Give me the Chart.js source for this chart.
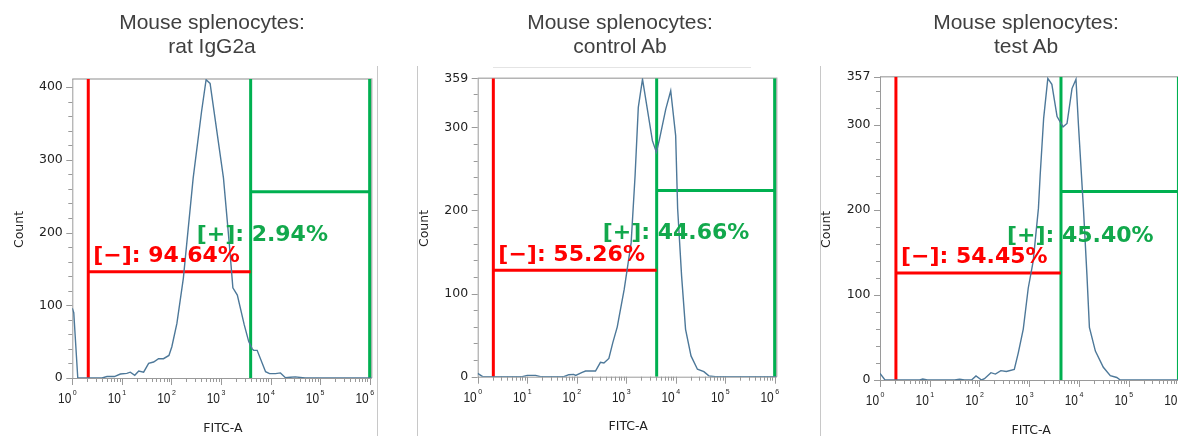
<!DOCTYPE html>
<html><head><meta charset="utf-8">
<script src="https://cdn.jsdelivr.net/npm/chart.js@4.4.1/dist/chart.umd.min.js"></script>
<style>
html,body{margin:0;padding:0;background:#fff;overflow:hidden;width:1178px;height:436px;}
.wrap{position:relative;width:1178px;height:436px;overflow:hidden;}
canvas{position:absolute;top:0;}
.title{position:absolute;top:10px;width:300px;text-align:center;font-family:"Liberation Sans",Arial,sans-serif;font-size:21px;line-height:24px;color:#404040;z-index:2;}
.sep{position:absolute;background:#c8c8c8;z-index:2;}
</style></head>
<body><div class="wrap" id="wrap">
<canvas id="c0"></canvas><canvas id="c1"></canvas><canvas id="c2"></canvas>
<div class="sep" style="left:377px;top:66px;width:1px;height:370px"></div>
<div class="sep" style="left:417px;top:66px;width:1px;height:370px"></div>
<div class="sep" style="left:820px;top:66px;width:1px;height:370px"></div>
<div class="sep" style="left:493px;top:67px;width:258px;height:1px;background:#e4e4e4"></div>
</div>
<script>
// ---------- data ----------
const titles = [
  ['Mouse splenocytes:', 'rat IgG2a'],
  ['Mouse splenocytes:', 'control Ab'],
  ['Mouse splenocytes:', 'test Ab']
];
const fitc1 = [1, 1.07, 1.29, 1.58, 2.51, 3.98, 5.01, 7.08, 9.33, 12.6, 14.8, 18.2, 21.9, 27.5, 34.7, 43.7, 55, 69.2, 89.1, 102, 129, 174, 275, 407, 501, 603, 1122, 1479, 1738, 2138, 2951, 3631, 4266, 4571, 5370, 7943, 9550, 12589, 15849, 19953, 25119, 31623, 50119, 100000, 316228, 1000000, 1100000];
const count1 = [96, 90, 0, 0, 0, 0, 2, 2, 5.5, 6.4, 8, 3.7, 9.6, 8, 20, 22, 26.5, 26.5, 31, 43, 75, 137, 275, 367, 410, 405, 275, 183, 124, 114, 73, 50, 40, 38, 38, 8.7, 6, 6, 7, 0.5, 1, 1.5, 0, 0, 0, 0, 0];
const fitc2 = [1, 1.26, 3.16, 7.94, 10, 14.8, 18.6, 55, 69.2, 87.1, 95.5, 129, 151, 240, 302, 355, 447, 537, 661, 724, 912, 1259, 1514, 1758, 2138, 3388, 4074, 4677, 6310, 7943, 10000, 10965, 13183, 15849, 20417, 27542, 37154, 46774, 63096, 100000, 1000000, 1100000];
const count2 = [4, 0, 0, 0, 1.6, 1.6, 0, 0, 2.4, 2.8, 1.6, 5.2, 6.8, 6.8, 17.3, 16.5, 22, 41, 60, 73, 105, 161, 242, 324, 358, 284, 270, 285, 322, 344, 290, 202, 121, 57, 25, 9, 6, 1, 0, 0, 0, 0];
const fitc3 = [1, 1.26, 3.16, 6.31, 7.24, 8.91, 31.6, 39.8, 50.1, 69.2, 85.1, 110, 126, 170, 209, 269, 347, 501, 603, 759, 955, 1202, 1531, 1660, 1950, 2366, 2851, 3631, 4786, 5754, 7244, 8710, 9772, 12303, 14454, 16218, 21380, 30903, 42658, 57544, 67608, 158489, 1000000, 1100000];
const count3 = [7.8, 0, 0, 0, 1.2, 0, 0, 0.8, 0, 0, 4.7, 0, 1.5, 8.6, 7, 11, 10, 12.5, 32, 60, 108, 140, 202, 241, 308, 355, 348, 310, 298, 302, 343, 354, 300, 202, 124, 62, 34, 15, 5, 3, 0, 0, 0, 0];

const negGate = [2.1, 2.07, 2.09];
const posGate = [3970, 4130, 4350];
const gateEnd = [1000000, 1000000, 1000000];
const negLevel = [146, 128, 126];
const posLevel = [256, 224, 222];
const negLabel = ['[\u2212]: 94.64%', '[\u2212]: 55.26%', '[\u2212]: 54.45%'];
const posLabel = ['[+]: 2.94%', '[+]: 44.66%', '[+]: 45.40%'];
const yMax = [411, 359, 357];
const yTickLabels = [[0, 100, 200, 300, 400], [0, 100, 200, 300, 359], [0, 100, 200, 300, 357]];
const xTickExponents = [0, 1, 2, 3, 4, 5, 6];
const xMin = 1, xMax = 1100000;
const xTitle = 'FITC-A', yTitle = 'Count';

// ---------- layout (pixels) ----------
const frames = [
  {left: 0,   width: 395, pad: {left: 72.3, top: 79,   right: 23.3, bottom: 58}, titleCenter: 212},
  {left: 395, width: 405, pad: {left: 82.7, top: 78.3, right: 23.3, bottom: 59.3}, titleCenter: 620},
  {left: 800, width: 410, pad: {left: 80,   top: 76.7, right: 29.5, bottom: 56}, titleCenter: 1026}
];
const H = 436;
const RED = '#ff0000', GREEN = '#00b050', GREEN_TXT = '#12a84c', HIST = '#4d7899';
const series = [[fitc1, count1], [fitc2, count2], [fitc3, count3]];

const decor = {
  id: 'decor',
  beforeDatasetsDraw(chart, args, o) {
    const ctx = chart.ctx, a = chart.chartArea, xs = chart.scales.x, ys = chart.scales.y;
    ctx.save();
    ctx.strokeStyle = '#b4b4b4'; ctx.lineWidth = 1.5;
    ctx.beginPath(); ctx.moveTo(a.left, a.top); ctx.lineTo(a.right, a.top); ctx.lineTo(a.right, a.bottom); ctx.stroke();
    ctx.strokeStyle = '#9a9a9a'; ctx.lineWidth = 1;
    ctx.beginPath(); ctx.moveTo(a.left + 0.5, a.top); ctx.lineTo(a.left + 0.5, a.bottom + 0.5); ctx.lineTo(a.right, a.bottom + 0.5); ctx.stroke();
    ctx.beginPath();
    for (let v = 0; v <= o.ymax + 0.01; v += 20) {
      const py = Math.round(ys.getPixelForValue(v)) + 0.5;
      const len = (v % 100 === 0) ? 6 : 4;
      ctx.moveTo(a.left - len, py); ctx.lineTo(a.left, py);
    }
    const pTop = Math.round(ys.getPixelForValue(o.yticks[o.yticks.length - 1])) + 0.5;
    ctx.moveTo(a.left - 6, pTop); ctx.lineTo(a.left, pTop);
    for (let k = 0; k < 6; k++) {
      for (let m = 1; m <= 9; m++) {
        const px = Math.round(xs.getPixelForValue(m * Math.pow(10, k))) + 0.5;
        const len = m === 1 ? 7 : 4;
        ctx.moveTo(px, a.bottom); ctx.lineTo(px, a.bottom + len);
      }
    }
    const p6 = Math.round(xs.getPixelForValue(1000000)) + 0.5;
    ctx.moveTo(p6, a.bottom); ctx.lineTo(p6, a.bottom + 7);
    ctx.stroke();
    ctx.restore();
  },
  afterDatasetsDraw(chart, args, o) {
    const ctx = chart.ctx, a = chart.chartArea, xs = chart.scales.x, ys = chart.scales.y;
    ctx.save();
    ctx.font = 'bold 22px "DejaVu Sans", Verdana, sans-serif';
    ctx.textAlign = 'left'; ctx.textBaseline = 'alphabetic';
    const redY = ys.getPixelForValue(o.negLevel);
    ctx.fillStyle = RED;
    ctx.fillText(o.negLabel, xs.getPixelForValue(o.negGate) + 5, redY - 9.5);
    ctx.fillStyle = GREEN_TXT;
    ctx.fillText(o.posLabel, xs.getPixelForValue(o.posGate) - 54, redY - 31);
    ctx.fillStyle = '#222';
    ctx.font = '12.5px "DejaVu Sans", sans-serif';
    ctx.textAlign = 'right'; ctx.textBaseline = 'middle';
    o.yticks.forEach(v => ctx.fillText(String(v), a.left - 9.5, ys.getPixelForValue(v)));
    o.xexp.forEach(k => {
      const px = xs.getPixelForValue(Math.pow(10, k));
      ctx.save();
      ctx.translate(px - 1, a.bottom + 25);
      ctx.scale(0.82, 1);
      ctx.font = '14.5px "Liberation Sans", Arial, sans-serif';
      ctx.textAlign = 'right'; ctx.textBaseline = 'alphabetic';
      ctx.fillText('10', 0, 0);
      ctx.restore();
      ctx.font = '7px "Liberation Sans", Arial, sans-serif';
      ctx.textAlign = 'left'; ctx.textBaseline = 'alphabetic';
      ctx.fillText(String(k), px + 0.5, a.bottom + 17);
    });
    ctx.font = '12.5px "DejaVu Sans", sans-serif';
    ctx.textAlign = 'center'; ctx.textBaseline = 'middle';
    const cx = (xs.getPixelForValue(1) + xs.getPixelForValue(1000000)) / 2 + 2;
    ctx.fillText(xTitle, cx, a.bottom + 50.5);
    ctx.save();
    ctx.translate(a.left - 53, (a.top + a.bottom) / 2 + 1);
    ctx.rotate(-Math.PI / 2);
    ctx.fillText(yTitle, 0, 0);
    ctx.restore();
    ctx.restore();
  }
};

const wrap = document.getElementById('wrap');
frames.forEach((f, i) => {
  const cv = document.getElementById('c' + i);
  cv.width = f.width; cv.height = H;
  cv.style.left = f.left + 'px'; cv.style.width = f.width + 'px'; cv.style.height = H + 'px';
  const t = document.createElement('div');
  t.className = 'title';
  t.style.left = (f.titleCenter - 150) + 'px';
  t.innerHTML = titles[i][0] + '<br>' + titles[i][1];
  wrap.appendChild(t);

  const [fx, cy] = series[i];
  const hist = fx.map((x, j) => ({x: x, y: cy[j]}));
  const ym = yMax[i];
  const seg = (pts, color) => ({data: pts, borderColor: color, borderWidth: 3, pointRadius: 0, fill: false, tension: 0, borderCapStyle: 'butt'});
  new Chart(cv, {
    type: 'line',
    data: {
      datasets: [
        {data: hist, borderColor: HIST, borderWidth: 1.4, pointRadius: 0, fill: false, tension: 0},
        seg([{x: negGate[i], y: 0}, {x: negGate[i], y: ym}], RED),
        seg([{x: negGate[i], y: negLevel[i]}, {x: posGate[i], y: negLevel[i]}], RED),
        seg([{x: posGate[i], y: 0}, {x: posGate[i], y: ym}], GREEN),
        seg([{x: gateEnd[i], y: 0}, {x: gateEnd[i], y: ym}], GREEN),
        seg([{x: posGate[i], y: posLevel[i]}, {x: gateEnd[i], y: posLevel[i]}], GREEN)
      ]
    },
    options: {
      responsive: false, animation: false, devicePixelRatio: 1,
      layout: {padding: f.pad},
      plugins: {legend: {display: false}, tooltip: {enabled: false}, title: {display: false},
        decor: {ymax: ym, yticks: yTickLabels[i], xexp: xTickExponents, negGate: negGate[i], posGate: posGate[i],
                negLevel: negLevel[i], negLabel: negLabel[i], posLabel: posLabel[i]}},
      scales: {
        x: {type: 'logarithmic', display: false, min: xMin, max: xMax},
        y: {type: 'linear', display: false, min: 0, max: ym}
      }
    },
    plugins: [decor]
  });
});
</script>
</body></html>
